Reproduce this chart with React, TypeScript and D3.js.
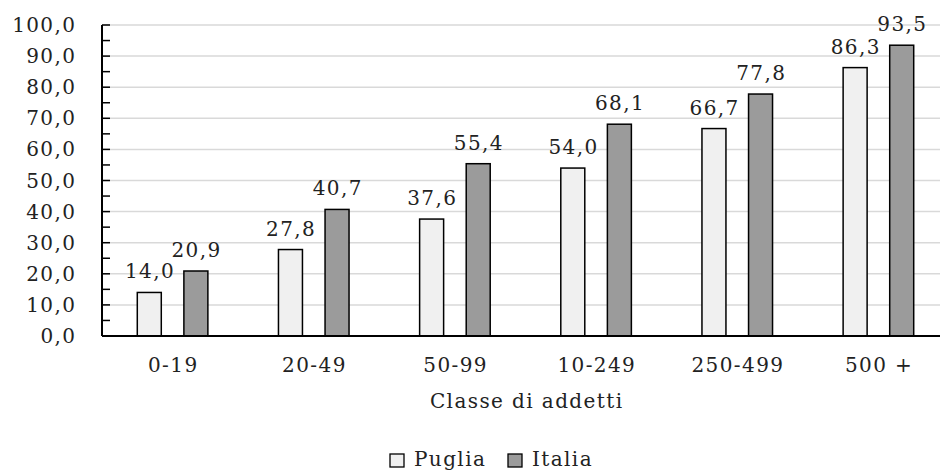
import React from "react";
import * as d3 from "d3";

const categories = ["0-19", "20-49", "50-99", "10-249", "250-499", "500 +"];
const series = ["Puglia", "Italia"];
const puglia = [14.0, 27.8, 37.6, 54.0, 66.7, 86.3];
const italia = [20.9, 40.7, 55.4, 68.1, 77.8, 93.5];
const yTicks = [0, 10, 20, 30, 40, 50, 60, 70, 80, 90, 100];
const yMinor = [5, 15, 25, 35, 45, 55, 65, 75, 85, 95];
const xTitle = "Classe di addetti";

const colors: Record<string, string> = { Puglia: "#f0f0f0", Italia: "#9b9b9b" };
const FONT = "DejaVu Serif";
const FS = 20;
const LS = 1.4;

const fmt = (v: number) => v.toFixed(1).replace(".", ",");

export default function App() {
  const W = 940, H = 471;
  const left = 102, right = 949, top = 25, bottom = 336;
  const y = d3.scaleLinear().domain([0, 100]).range([bottom, top]);
  const x0 = d3.scaleBand<string>().domain(categories).range([left, right]).paddingInner(0.5).paddingOuter(0.25);
  const x1 = d3.scaleBand<string>().domain(series).range([0, x0.bandwidth()]).paddingInner(0.485);
  const values: Record<string, number[]> = { Puglia: puglia, Italia: italia };
  const txt = { fontSize: FS, letterSpacing: LS, fill: "#222", style: { fontFamily: FONT, fontWeight: 300 } as React.CSSProperties };

  return (
    <svg width={W} height={H} style={{ position: "absolute", left: 0, top: 0, background: "#fff" }}>
      {yTicks.filter((t) => t > 0).map((t) => (
        <line key={"g" + t} x1={left} x2={W} y1={y(t)} y2={y(t)} stroke="#d9d9d9" strokeWidth={1.5} />
      ))}
      {categories.map((c, i) => (
        <g key={c}>
          {series.map((s) => {
            const v = values[s][i];
            const bx = (x0(c) as number) + (x1(s) as number);
            const bw = x1.bandwidth();
            return (
              <g key={s}>
                <rect x={bx} y={y(v)} width={bw} height={bottom - y(v)} fill={colors[s]} stroke="#000" strokeWidth={1.5} />
                <text x={bx + bw / 2 + LS / 2} y={y(v) - 14} textAnchor="middle" {...txt}>
                  {fmt(v)}
                </text>
              </g>
            );
          })}
          <text x={(x0(c) as number) + x0.bandwidth() / 2 + LS / 2} y={372} textAnchor="middle" {...txt}>
            {c}
          </text>
        </g>
      ))}
      <line x1={left} x2={left} y1={top} y2={bottom} stroke="#000" strokeWidth={2} />
      <line x1={left} x2={W} y1={bottom} y2={bottom} stroke="#000" strokeWidth={2} />
      {yTicks.concat(yMinor).map((t) => (
        <line key={"t" + t} x1={left} x2={left + 8} y1={y(t)} y2={y(t)} stroke="#000" strokeWidth={1.5} />
      ))}
      {yTicks.map((t) => (
        <text key={"l" + t} x={75 + LS} y={y(t) + 7} textAnchor="end" {...txt}>
          {fmt(t)}
        </text>
      ))}
      <text x={526 + LS / 2} y={408} textAnchor="middle" {...txt}>
        {xTitle}
      </text>
      {series.map((s, i) => {
        const lx = i === 0 ? 390 : 508;
        return (
          <g key={"leg" + s}>
            <rect x={lx} y={454} width={14} height={13} fill={colors[s]} stroke="#000" strokeWidth={1.3} />
            <text x={lx + 24} y={466} {...txt}>
              {s}
            </text>
          </g>
        );
      })}
    </svg>
  );
}
